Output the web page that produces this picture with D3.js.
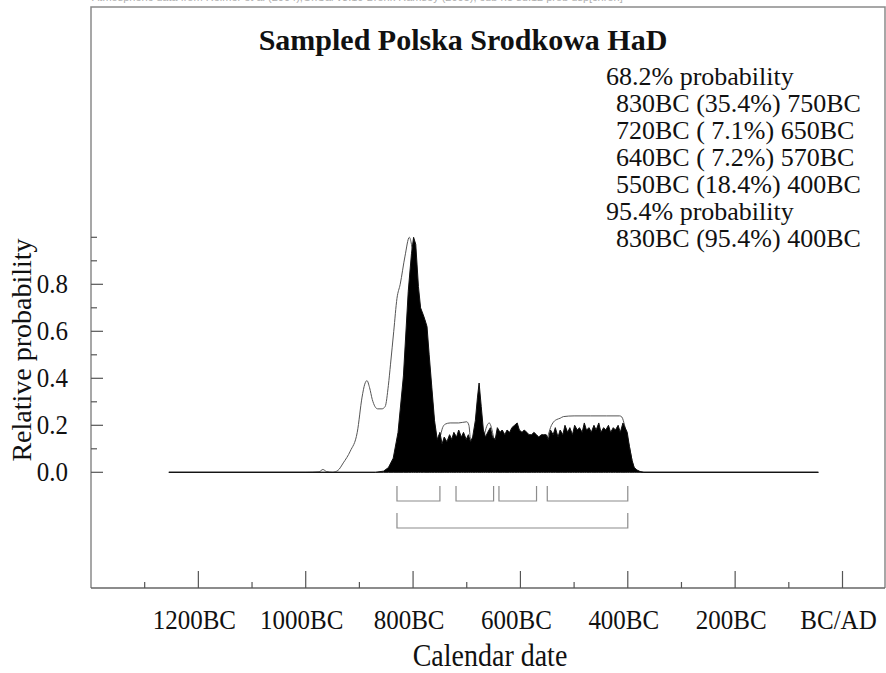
<!DOCTYPE html>
<html>
<head>
<meta charset="utf-8">
<script src="https://cdn.jsdelivr.net/npm/d3@7"></script>
<style>
  html, body { margin: 0; padding: 0; background: #fff; }
  svg { display: block; font-family: "Liberation Serif", "Times New Roman", serif; }
  text { white-space: pre; }
</style>
</head>
<body>
<svg id="chart" width="886" height="673"></svg>
<script>
// ---- data ---------------------------------------------------------------
const chartTitle = "Sampled Polska Srodkowa HaD";
const headerNote = "Atmospheric data from Reimer et al (2004);OxCal v3.10 Bronk Ramsey (2005); cub r:5 sd:12 prob usp[chron]";
const xAxisTitle = "Calendar date";
const yAxisTitle = "Relative probability";

const xTickYears  = [-1200, -1000, -800, -600, -400, -200, 0];
const xMinorYears = [-1300, -1100, -900, -700, -500, -300, -100];
const yTickValues = [0, 0.2, 0.4, 0.6, 0.8];
const yMinorValues = [0.1, 0.3, 0.5, 0.7, 0.9, 1.0];

// unmodelled (prior) distribution, drawn as an outline
const priorYears = [-1255, -1000, -975, -968, -961, -950, -940, -930, -917, -904, -895, -890, -886,
  -881, -876, -871, -866, -858, -852, -846, -842, -836, -830, -824, -815, -807, -803, -799, -790,
  -781, -774, -765, -760, -755, -750, -745, -740, -731, -715, -700, -696, -693, -688, -670, -666,
  -662, -658, -654, -650, -646, -600, -556, -548, -544, -538, -532, -526, -520, -500, -470, -440,
  -415, -411, -406, -402, -397, -392, -388, -380, -370, -45];
const priorProb = [0, 0, 0.002, 0.012, 0.003, 0, 0.008, 0.04, 0.09, 0.17, 0.32, 0.375, 0.39,
  0.36, 0.31, 0.28, 0.27, 0.27, 0.28, 0.37, 0.46, 0.60, 0.74, 0.80, 0.92, 1.0, 0.97, 0.90, 0.75,
  0.62, 0.55, 0.33, 0.20, 0.14, 0.15, 0.19, 0.205, 0.21, 0.21, 0.215, 0.20, 0.14, 0.12, 0.12, 0.17,
  0.20, 0.21, 0.19, 0.15, 0.13, 0.13, 0.13, 0.16, 0.19, 0.215, 0.225, 0.23, 0.237, 0.24, 0.24, 0.24,
  0.24, 0.235, 0.20, 0.16, 0.11, 0.05, 0.02, 0.005, 0, 0];

// modelled (posterior) distribution, drawn filled
const postYears = [-1255, -870, -855, -846, -837, -828, -818, -809, -803, -799, -795, -790, -786,
  -781, -778, -774, -770, -765, -760, -755, -750, -746, -742, -737, -732, -728, -724, -719, -715,
  -710, -706, -701, -697, -693, -689, -684, -680, -677, -673, -669, -665, -661, -656, -652, -647,
  -643, -638, -634, -629, -625, -620, -616, -611, -606, -602, -597, -593, -588, -584, -579, -575,
  -570, -566, -561, -557, -552, -548, -544, -539, -535, -530, -526, -521, -517, -512, -508, -503,
  -499, -494, -490, -485, -481, -477, -472, -468, -463, -459, -454, -450, -445, -441, -436, -432,
  -427, -423, -418, -414, -409, -405, -401, -397, -392, -388, -383, -377, -370, -45];
const postProb = [0, 0, 0.005, 0.02, 0.06, 0.17, 0.41, 0.77, 0.93, 1.0, 0.97, 0.79, 0.70,
  0.67, 0.65, 0.62, 0.50, 0.36, 0.22, 0.14, 0.17, 0.12, 0.15, 0.13, 0.16, 0.14, 0.17, 0.15, 0.18,
  0.15, 0.17, 0.14, 0.16, 0.13, 0.15, 0.22, 0.32, 0.38, 0.28, 0.18, 0.15, 0.17, 0.19, 0.15, 0.14,
  0.19, 0.17, 0.18, 0.16, 0.18, 0.17, 0.19, 0.20, 0.21, 0.18, 0.17, 0.18, 0.17, 0.16, 0.16, 0.17,
  0.16, 0.15, 0.16, 0.16, 0.16, 0.14, 0.18, 0.16, 0.19, 0.15, 0.18, 0.16, 0.20, 0.17, 0.19, 0.16,
  0.20, 0.18, 0.19, 0.17, 0.21, 0.18, 0.19, 0.17, 0.20, 0.18, 0.21, 0.17, 0.19, 0.18, 0.20, 0.17,
  0.19, 0.18, 0.20, 0.17, 0.21, 0.19, 0.17, 0.11, 0.05, 0.02, 0.01, 0.003, 0, 0];

// highest posterior density ranges
const range68Start = [-830, -720, -640, -550];
const range68End   = [-750, -650, -570, -400];
const range68Pct   = [35.4, 7.1, 7.2, 18.4];
const range95Start = [-830];
const range95End   = [-400];
const range95Pct   = [95.4];

// ---- layout -------------------------------------------------------------
const frame = { left: 91, top: 7, right: 885, bottom: 588 };
const svg = d3.select("#chart");

const x = d3.scaleLinear().domain([-1400, 0]).range([frame.left, 842.5]);
const y = d3.scaleLinear().domain([0, 1]).range([472.3, 237.3]);

const fmtYear = v => v < 0 ? `${-v}BC` : (v === 0 ? "BC/AD" : `${v}AD`);

// header line, running off the top of the page
svg.append("text")
  .attr("x", 92).attr("y", 1)
  .attr("font-family", "Liberation Sans, Arial, sans-serif")
  .attr("font-size", 11).attr("fill", "#b0b0b0")
  .text(headerNote);

// frame
svg.append("path")
  .attr("d", `M${frame.left},${frame.bottom}V${frame.top}H${frame.right}V${frame.bottom}`)
  .attr("fill", "none").attr("stroke", "#8a8a8a").attr("stroke-width", 1.5);
svg.append("line")
  .attr("x1", frame.left).attr("x2", frame.right)
  .attr("y1", frame.bottom).attr("y2", frame.bottom)
  .attr("stroke", "#666").attr("stroke-width", 1.5);

// x ticks (inside, pointing up)
const xTicks = svg.append("g").attr("stroke", "#555").attr("stroke-width", 1.2);
xTicks.selectAll("line.maj").data(xTickYears).join("line")
  .attr("x1", d => x(d)).attr("x2", d => x(d))
  .attr("y1", frame.bottom).attr("y2", frame.bottom - 17);
xTicks.selectAll("line.min").data(xMinorYears).join("line")
  .attr("x1", d => x(d)).attr("x2", d => x(d))
  .attr("y1", frame.bottom).attr("y2", frame.bottom - 6);

svg.append("g").selectAll("text").data(xTickYears).join("text")
  .attr("transform", d => `translate(${x(d) - 4},629) scale(1,1.1)`)
  .attr("text-anchor", "middle").attr("font-size", 25).attr("fill", "#111")
  .text(fmtYear);

// y ticks (inside, pointing right)
const yTicks = svg.append("g").attr("stroke", "#555").attr("stroke-width", 1.2);
yTicks.selectAll("line.maj").data(yTickValues).join("line")
  .attr("x1", frame.left).attr("x2", frame.left + 12)
  .attr("y1", d => y(d)).attr("y2", d => y(d));
yTicks.selectAll("line.min").data(yMinorValues).join("line")
  .attr("x1", frame.left).attr("x2", frame.left + 6)
  .attr("y1", d => y(d)).attr("y2", d => y(d));

svg.append("g").selectAll("text").data(yTickValues).join("text")
  .attr("transform", d => `translate(68,${y(d) + 9}) scale(1,1.1)`)
  .attr("text-anchor", "end").attr("font-size", 25).attr("fill", "#111")
  .text(d => d.toFixed(1));

// axis titles
svg.append("text")
  .attr("transform", "translate(490,666) scale(1,1.1)")
  .attr("text-anchor", "middle").attr("font-size", 28).attr("fill", "#111")
  .text(xAxisTitle);
svg.append("text")
  .attr("transform", "translate(31,350) rotate(-90)")
  .attr("text-anchor", "middle").attr("font-size", 28).attr("fill", "#111")
  .text(yAxisTitle);

// title
svg.append("text")
  .attr("x", 463).attr("y", 50)
  .attr("text-anchor", "middle").attr("font-size", 30).attr("font-weight", "bold")
  .attr("fill", "#111")
  .text(chartTitle);

// distributions
const prior = priorYears.map((yr, i) => [yr, priorProb[i]]);
const post = postYears.map((yr, i) => [yr, postProb[i]]);

svg.append("path")
  .datum(prior)
  .attr("d", d3.line().x(d => x(d[0])).y(d => y(d[1])).curve(d3.curveMonotoneX))
  .attr("fill", "none").attr("stroke", "#555").attr("stroke-width", 1);

svg.append("path")
  .datum(post)
  .attr("d", d3.area().x(d => x(d[0])).y0(y(0)).y1(d => y(d[1])))
  .attr("fill", "#000").attr("stroke", "#111").attr("stroke-width", 1);

// range brackets
function brackets(starts, ends, yLine, height) {
  const g = svg.append("g").attr("fill", "none").attr("stroke", "#8c8c8c").attr("stroke-width", 1.2);
  g.selectAll("path").data(starts.map((s, i) => [s, ends[i]])).join("path")
    .attr("d", d => `M${x(d[0])},${yLine - height}V${yLine}H${x(d[1])}V${yLine - height}`);
}
brackets(range68Start, range68End, 501, 15);
brackets(range95Start, range95End, 528, 15);

// range legend
const pctText = p => p.toFixed(1).padStart(4, " ");
const legendLines = [];
legendLines.push({ text: "68.2% probability", indent: false });
range68Start.forEach((s, i) => legendLines.push({
  text: `${fmtYear(s)} (${pctText(range68Pct[i])}%) ${fmtYear(range68End[i])}`, indent: true }));
legendLines.push({ text: "95.4% probability", indent: false });
range95Start.forEach((s, i) => legendLines.push({
  text: `${fmtYear(s)} (${pctText(range95Pct[i])}%) ${fmtYear(range95End[i])}`, indent: true }));

svg.append("g").selectAll("text").data(legendLines).join("text")
  .attr("x", d => d.indent ? 616 : 606)
  .attr("y", (d, i) => 85 + i * 27)
  .attr("font-size", 26).attr("fill", "#111")
  .attr("xml:space", "preserve")
  .text(d => d.text);
</script>
</body>
</html>
